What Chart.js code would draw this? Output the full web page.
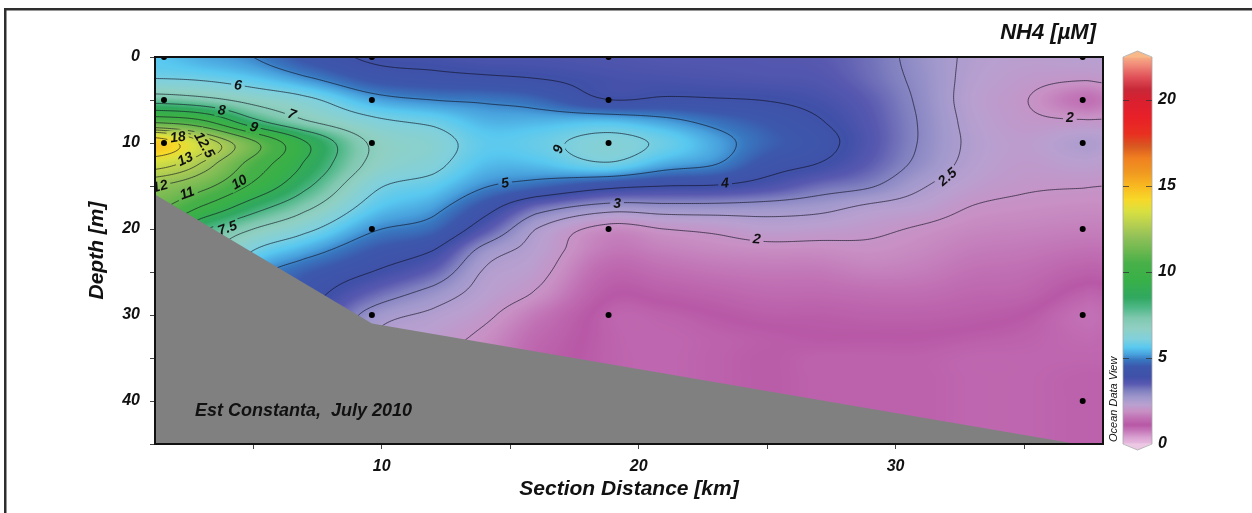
<!DOCTYPE html>
<html>
<head>
<meta charset="utf-8">
<title>NH4 section - Est Constanta, July 2010</title>
<script src="https://cdn.jsdelivr.net/npm/chart.js@4.4.1/dist/chart.umd.min.js"></script>
<style>
  html, body { margin: 0; padding: 0; background: #fff; }
</style>
</head>
<body>
<canvas id="section" width="1252" height="513"></canvas>
<script>
// NH4 [µM] section plot, Est Constanta July 2010 (ODV style)

// gridded field: columns = section distance (km), rows = depth (m)
const gridKm = [1.2, 3, 5, 7, 9.6, 12, 14, 16, 18.8, 21, 23, 25, 27, 29, 31, 33, 35, 37.3, 38.1];
const gridDepth = [0, 2.5, 5, 7.5, 10, 12.5, 15, 17.5, 20, 22.5, 25, 27.5, 30, 32.5, 35, 37.5, 40, 42.5, 45];

const nh4_0m    = [5.6, 5.3, 5.0, 4.4, 3.9, 3.8, 3.7, 3.7, 3.65, 3.6, 3.6, 3.55, 3.5, 3.25, 2.8, 2.4, 2.25, 2.3, 2.3];
const nh4_2_5m  = [6.0, 5.9, 5.6, 5.1, 4.4, 4.2, 4.1, 4.0, 3.8, 3.75, 3.7, 3.65, 3.6, 3.3, 2.85, 2.35, 2.15, 2.05, 2.1];
const nh4_5m    = [7.6, 7.3, 6.7, 6.2, 5.3, 5.0, 4.9, 4.7, 4.02, 4.1, 4.05, 3.98, 3.8, 3.45, 2.9, 2.3, 2.03, 1.5, 1.6];
const nh4_7_5m  = [10.8, 10.2, 8.3, 7.1, 6.2, 5.85, 5.4, 5.4, 5.5, 5.2, 4.8, 4.45, 4.05, 3.55, 2.95, 2.35, 2.1, 2.05, 2.05];
const nh4_10m   = [14.6, 13.1, 11.2, 9.1, 6.9, 6.35, 5.7, 5.8, 6.25, 5.85, 5.25, 4.65, 4.25, 3.6, 2.95, 2.4, 2.2, 2.45, 2.4];
const nh4_12_5m = [13.3, 12.4, 10.6, 8.9, 6.8, 6.2, 5.5, 5.5, 5.9, 5.3, 5.0, 4.3, 3.97, 3.45, 2.85, 2.35, 2.15, 2.25, 2.2];
const nh4_15m   = [12.0, 11.3, 9.8, 8.2, 6.2, 5.7, 5.05, 4.7, 4.2, 4.0, 3.95, 3.7, 3.3, 3.05, 2.55, 2.2, 2.05, 2.02, 2.0];
const nh4_17_5m = [11.2, 9.9, 8.4, 7.2, 5.7, 5.2, 4.3, 3.3, 2.75, 2.8, 2.8, 2.75, 2.65, 2.4, 2.25, 1.98, 1.9, 1.85, 1.85];
const nh4_20m   = [10.5, 8.2, 7.0, 6.2, 5.1, 4.7, 3.6, 2.5, 1.85, 2.0, 2.1, 2.25, 2.2, 2.1, 1.95, 1.8, 1.75, 1.7, 1.7];
const nh4_22_5m = [10.0, 7.6, 6.0, 5.3, 4.5, 4.0, 2.8, 2.3, 1.6, 1.7, 1.8, 1.85, 1.85, 1.9, 1.8, 1.65, 1.6, 1.5, 1.5];
const nh4_25m   = [9.5, 7.2, 5.3, 4.6, 4.0, 3.4, 2.45, 2.15, 1.35, 1.45, 1.55, 1.6, 1.6, 1.7, 1.65, 1.5, 1.45, 1.25, 1.25];
const nh4_27_5m = [9.0, 7.0, 5.0, 4.3, 3.4, 2.8, 2.3, 1.95, 1.15, 1.2, 1.3, 1.4, 1.4, 1.45, 1.45, 1.35, 1.3, 1.0, 1.0];
const nh4_30m   = [8.5, 6.8, 4.8, 4.1, 2.8, 2.4, 2.1, 1.6, 1.0, 1.0, 1.1, 1.2, 1.2, 1.25, 1.25, 1.2, 1.1, 0.85, 0.88];
const nh4_32_5m = [8.0, 6.6, 4.7, 4.0, 2.5, 2.2, 1.9, 1.4, 1.0, 0.95, 1.0, 1.05, 1.1, 1.1, 1.1, 1.05, 1.0, 0.9, 0.92];
const nh4_35m   = [7.5, 6.5, 4.6, 3.9, 2.3, 2.0, 1.8, 1.3, 1.0, 0.95, 1.0, 1.05, 1.0, 1.0, 1.0, 0.95, 0.95, 0.95, 0.95];
const nh4_37_5m = [7.0, 6.5, 4.6, 3.9, 2.2, 2.0, 1.8, 1.3, 1.0, 0.95, 1.0, 1.05, 1.0, 1.0, 1.0, 0.95, 0.95, 1.0, 1.0];
const nh4_40m   = [7.0, 6.5, 4.6, 3.9, 2.2, 2.0, 1.8, 1.3, 1.0, 0.95, 1.0, 1.05, 1.0, 1.0, 1.0, 0.95, 0.95, 1.0, 1.0];
const nh4_42_5m = [7.0, 6.5, 4.6, 3.9, 2.2, 2.0, 1.8, 1.3, 1.0, 0.95, 1.0, 1.05, 1.0, 1.0, 1.0, 0.95, 0.95, 1.0, 1.0];
const nh4_45m   = [7.0, 6.5, 4.6, 3.9, 2.2, 2.0, 1.8, 1.3, 1.0, 0.95, 1.0, 1.05, 1.0, 1.0, 1.0, 0.95, 0.95, 1.0, 1.0];

// sample positions (black dots)
const stationKm = [1.53, 9.62, 18.83, 37.28];
const stationDepths = [[0, 5, 10], [0, 5, 10, 20, 30], [0, 5, 10, 20, 30], [0, 5, 10, 20, 30, 40]];

// bottom topography (grey)
const seabedKm = [1.18, 9.62, 37.05, 38.07];
const seabedDepth = [16.0, 31.0, 45, 45];

// contour levels and their labels
const contourLevels = [2, 2.5, 3, 4, 5, 6, 7, 8, 9, 10, 11, 12, 12.5, 13, 14];
const labelText  = ['6', '8', '7', '9', '18', '12.5', '13', '12', '11', '10', '7.5', '6', '5', '4', '3', '2', '2.5', '2'];
const labelKm    = [4.41, 3.78, 6.51, 5.03, 2.07, 3.12, 2.35, 1.37, 2.42, 4.45, 3.99, 16.86, 14.8, 23.36, 19.16, 24.6, 32.0, 36.78];
const labelDepth = [3.22, 6.13, 6.59, 8.10, 9.27, 10.2, 11.8, 14.97, 15.78, 14.5, 19.85, 10.66, 14.6, 14.6, 16.94, 21.1, 13.9, 6.94];
const labelAngle = [5, 5, 20, 15, -8, 60, -25, -15, -20, -30, -20, 110, -10, -5, 0, 5, -40, 0];

// axis ticks
const kmTicks = [5, 10, 15, 20, 25, 30, 35];
const kmLabels = [10, 20, 30];
const depthTicks = [0, 5, 10, 15, 20, 25, 30, 35, 40, 45];
const depthLabels = [0, 10, 20, 30, 40];
const scaleTicks = [0, 5, 10, 15, 20];

// ODV colour bar
const paletteValues = [-0.5, 0, 0.4, 0.8, 1.1, 1.5, 1.9, 2.3, 2.7, 3.1, 3.5, 3.9, 4.5, 4.9, 5.2, 5.6, 6.1, 6.7, 7.3, 7.9, 8.5, 9.5, 10.5, 11.3, 12.0, 12.8, 13.5, 14.2, 15.0, 15.8, 16.6, 17.3, 18.0, 19.0, 20.0, 20.6, 21.3, 22.0, 22.6];
const paletteColours = ['#ecc8e4', '#e8bce0', '#d8a0d0', '#c474b8', '#b858a6', '#c070b4', '#c890c4', '#b8a0d0', '#a098cc', '#8080c0', '#5858b0', '#4050a8', '#3c58ac', '#3878c0', '#48a0dc', '#58c8f0', '#80d0dc', '#90d0c4', '#80c8b0', '#50b888', '#30a860', '#38b048', '#48b048', '#70b850', '#90c058', '#b8d050', '#d8e040', '#f8d828', '#f8b820', '#f09820', '#f08020', '#d85820', '#e83020', '#e82028', '#d82030', '#c82838', '#e05058', '#f08878', '#f8b888'];

const FONT = "'Liberation Sans', Arial, Helvetica, sans-serif";
Chart.defaults.font.family = FONT;
Chart.defaults.color = '#111';

const nh4Rows = [nh4_0m, nh4_2_5m, nh4_5m, nh4_7_5m, nh4_10m, nh4_12_5m, nh4_15m, nh4_17_5m, nh4_20m,
  nh4_22_5m, nh4_25m, nh4_27_5m, nh4_30m, nh4_32_5m, nh4_35m, nh4_37_5m, nh4_40m, nh4_42_5m, nh4_45m];

const paletteRgb = paletteColours.map(h => [1, 3, 5].map(i => parseInt(h.substr(i, 2), 16)));

function colourFor(v) {
  if (v <= paletteValues[0]) return paletteRgb[0];
  for (let i = 0; i < paletteValues.length - 1; i++) {
    if (v <= paletteValues[i + 1]) {
      const t = (v - paletteValues[i]) / (paletteValues[i + 1] - paletteValues[i]);
      const a = paletteRgb[i], b = paletteRgb[i + 1];
      return [a[0] + (b[0] - a[0]) * t, a[1] + (b[1] - a[1]) * t, a[2] + (b[2] - a[2]) * t];
    }
  }
  return paletteRgb[paletteRgb.length - 1];
}

function fracIndex(arr, v) {
  if (v <= arr[0]) return 0;
  for (let i = 0; i < arr.length - 1; i++) {
    if (v <= arr[i + 1]) return i + (v - arr[i]) / (arr[i + 1] - arr[i]);
  }
  return arr.length - 1;
}

function catmull(p0, p1, p2, p3, t) {
  return p1 + 0.5 * t * (p2 - p0 + t * (2 * p0 - 5 * p1 + 4 * p2 - p3 + t * (3 * (p1 - p2) + p3 - p0)));
}

function nh4At(fi, fj) {
  const nR = gridDepth.length, nC = gridKm.length;
  const i = Math.min(Math.floor(fi), nR - 2), j = Math.min(Math.floor(fj), nC - 2);
  const ti = fi - i, tj = fj - j;
  const cl = (k, n) => Math.max(0, Math.min(n - 1, k));
  const r = [];
  for (let a = -1; a <= 2; a++) {
    const row = nh4Rows[cl(i + a, nR)];
    r.push(catmull(row[cl(j - 1, nC)], row[j], row[j + 1], row[cl(j + 2, nC)], tj));
  }
  return catmull(r[0], r[1], r[2], r[3], ti);
}

let fieldCache = null;
function buildField(chart) {
  const {chartArea: a, scales: {x, y}} = chart;
  const left = Math.round(a.left), top = Math.round(a.top);
  const w = Math.round(a.right) - left, h = Math.round(a.bottom) - top;
  const key = [left, top, w, h].join(',');
  if (fieldCache && fieldCache.key === key) return fieldCache;
  const colIdx = new Float32Array(w), rowIdx = new Float32Array(h);
  for (let px = 0; px < w; px++) colIdx[px] = fracIndex(gridKm, x.getValueForPixel(left + px + 0.5));
  for (let py = 0; py < h; py++) rowIdx[py] = fracIndex(gridDepth, y.getValueForPixel(top + py + 0.5));
  const field = new Float32Array(w * h);
  for (let py = 0; py < h; py++) {
    for (let px = 0; px < w; px++) field[py * w + px] = nh4At(rowIdx[py], colIdx[px]);
  }
  const off = document.createElement('canvas');
  off.width = w; off.height = h;
  const octx = off.getContext('2d');
  const img = octx.createImageData(w, h);
  for (let k = 0; k < w * h; k++) {
    const c = colourFor(field[k]);
    img.data[k * 4] = c[0]; img.data[k * 4 + 1] = c[1]; img.data[k * 4 + 2] = c[2]; img.data[k * 4 + 3] = 255;
  }
  octx.putImageData(img, 0, 0);
  fieldCache = {key, left, top, w, h, field, image: off};
  return fieldCache;
}

function labelBoxes(chart, ctx) {
  const {x, y} = chart.scales;
  ctx.font = 'italic bold 14px ' + FONT;
  return labelText.map((t, i) => ({
    text: t,
    px: x.getPixelForValue(labelKm[i]),
    py: y.getPixelForValue(labelDepth[i]),
    ang: labelAngle[i] * Math.PI / 180,
    hw: ctx.measureText(t).width / 2 + 3,
    hh: 7
  }));
}

const sectionPlugin = {
  id: 'odvSection',
  beforeDatasetsDraw(chart) {
    const ctx = chart.ctx, a = chart.chartArea;
    const f = buildField(chart);
    ctx.save();
    ctx.beginPath();
    ctx.rect(a.left, a.top, a.right - a.left, a.bottom - a.top);
    ctx.clip();
    ctx.drawImage(f.image, f.left, f.top);

    // contour lines, with gaps where the labels sit
    const boxes = labelBoxes(chart, ctx);
    ctx.save();
    ctx.beginPath();
    ctx.rect(a.left, a.top, a.right - a.left, a.bottom - a.top);
    boxes.forEach(b => {
      const c = Math.cos(b.ang), s = Math.sin(b.ang);
      [[-b.hw, -b.hh], [b.hw, -b.hh], [b.hw, b.hh], [-b.hw, b.hh]].forEach(([dx, dy], k) => {
        const X = b.px + dx * c - dy * s, Y = b.py + dx * s + dy * c;
        if (k === 0) ctx.moveTo(X, Y); else ctx.lineTo(X, Y);
      });
      ctx.closePath();
    });
    ctx.clip('evenodd');
    ctx.lineWidth = 0.8;
    ctx.strokeStyle = 'rgba(15,15,30,0.8)';
    const st = 2, w = f.w, field = f.field;
    const nx = Math.floor((f.w - 1) / st), ny = Math.floor((f.h - 1) / st);
    const val = (ix, iy) => field[(iy * st) * w + ix * st];
    contourLevels.forEach(L => {
      ctx.beginPath();
      for (let iy = 0; iy < ny; iy++) {
        for (let ix = 0; ix < nx; ix++) {
          const p = val(ix, iy), q = val(ix + 1, iy), r = val(ix + 1, iy + 1), d = val(ix, iy + 1);
          const x0 = f.left + ix * st + 0.5, y0 = f.top + iy * st + 0.5;
          const pts = [];
          if ((p - L) * (q - L) < 0) pts.push([x0 + st * (L - p) / (q - p), y0]);
          if ((q - L) * (r - L) < 0) pts.push([x0 + st, y0 + st * (L - q) / (r - q)]);
          if ((d - L) * (r - L) < 0) pts.push([x0 + st * (L - d) / (r - d), y0 + st]);
          if ((p - L) * (d - L) < 0) pts.push([x0, y0 + st * (L - p) / (d - p)]);
          if (pts.length >= 2) { ctx.moveTo(pts[0][0], pts[0][1]); ctx.lineTo(pts[1][0], pts[1][1]); }
          if (pts.length === 4) { ctx.moveTo(pts[2][0], pts[2][1]); ctx.lineTo(pts[3][0], pts[3][1]); }
        }
      }
      ctx.stroke();
    });
    ctx.restore();

    // contour labels
    ctx.fillStyle = '#111';
    ctx.font = 'italic bold 14px ' + FONT;
    ctx.textAlign = 'center';
    ctx.textBaseline = 'middle';
    boxes.forEach(b => {
      ctx.save();
      ctx.translate(b.px, b.py);
      ctx.rotate(b.ang);
      ctx.fillText(b.text, 0, 1);
      ctx.restore();
    });
    ctx.restore();
  },
  afterDraw(chart) {
    const ctx = chart.ctx, a = chart.chartArea, cb = chart.scales.cb;
    ctx.save();
    // outer frame (cut by the page edge on right and bottom)
    ctx.fillStyle = '#2e2e2e';
    ctx.fillRect(4, 8, 2.5, chart.height - 8);
    ctx.fillRect(4, 8, chart.width - 4, 2.5);

    // plot frame
    ctx.strokeStyle = '#111';
    ctx.lineWidth = 2;
    ctx.strokeRect(a.left, a.top, a.right - a.left, a.bottom - a.top);

    // colour bar drawn on its own value scale
    const bx = cb.left + 20, bw = 29;
    const yTop = cb.getPixelForValue(cb.max), yBot = cb.getPixelForValue(0);
    for (let py = Math.floor(yTop); py < Math.ceil(yBot); py++) {
      const c = colourFor(cb.getValueForPixel(py + 0.5));
      ctx.fillStyle = 'rgb(' + c.map(Math.round).join(',') + ')';
      ctx.fillRect(bx, py, bw, 1);
    }
    const topC = paletteRgb[paletteRgb.length - 1], botC = paletteRgb[0];
    ctx.fillStyle = 'rgb(' + topC.join(',') + ')';
    ctx.beginPath();
    ctx.moveTo(bx, yTop + 0.5); ctx.lineTo(bx + bw / 2, yTop - 6); ctx.lineTo(bx + bw, yTop + 0.5); ctx.closePath();
    ctx.fill();
    ctx.fillStyle = 'rgb(' + botC.join(',') + ')';
    ctx.beginPath();
    ctx.moveTo(bx, yBot - 0.5); ctx.lineTo(bx + bw / 2, yBot + 6); ctx.lineTo(bx + bw, yBot - 0.5); ctx.closePath();
    ctx.fill();
    ctx.strokeStyle = '#a8a8a8';
    ctx.lineWidth = 0.8;
    ctx.beginPath();
    ctx.moveTo(bx, yTop); ctx.lineTo(bx + bw / 2, yTop - 6); ctx.lineTo(bx + bw, yTop);
    ctx.lineTo(bx + bw, yBot); ctx.lineTo(bx + bw / 2, yBot + 6); ctx.lineTo(bx, yBot); ctx.closePath();
    ctx.stroke();
    ctx.strokeStyle = 'rgba(50,50,50,0.75)';
    ctx.lineWidth = 1;
    scaleTicks.forEach(v => {
      if (v === 0) return;
      const py = Math.round(cb.getPixelForValue(v)) + 0.5;
      ctx.beginPath();
      ctx.moveTo(bx, py); ctx.lineTo(bx + 6, py);
      ctx.moveTo(bx + bw - 6, py); ctx.lineTo(bx + bw, py);
      ctx.stroke();
    });

    // texts
    ctx.fillStyle = '#111';
    ctx.textBaseline = 'middle';
    ctx.textAlign = 'right';
    ctx.font = 'italic bold 22px ' + FONT;
    ctx.fillText('NH4 [µM]', a.right - 7, 33);

    ctx.textAlign = 'left';
    ctx.font = 'italic bold 18px ' + FONT;
    ctx.fillText('Est Constanta,  July 2010', a.left + 40, a.bottom - 33);

    ctx.save();
    ctx.translate(a.right + 11, a.bottom - 2);
    ctx.rotate(-Math.PI / 2);
    ctx.font = 'italic 11px ' + FONT;
    ctx.fillText('Ocean Data View', 0, 0);
    ctx.restore();
    ctx.restore();
  }
};

const stationPoints = stationKm.flatMap((km, i) => stationDepths[i].map(d => ({x: km, y: d})));
const seabedPoints = seabedKm.map((km, i) => ({x: km, y: seabedDepth[i]}));

const tickFont = {size: 16, weight: 'bold', style: 'italic'};
const titleFont = {size: 21, weight: 'bold', style: 'italic'};

// keep label overflow from pushing the plot area around
const noOverflow = s => { s.paddingTop = 0; s.paddingBottom = 0; s.paddingLeft = 0; s.paddingRight = 0; };

new Chart(document.getElementById('section'), {
  type: 'scatter',
  data: {
    datasets: [
      {
        label: 'Stations',
        data: stationPoints,
        xAxisID: 'x', yAxisID: 'y',
        pointRadius: 3,
        pointBackgroundColor: '#000',
        pointBorderWidth: 0,
        clip: 0,
        order: 0
      },
      {
        type: 'line',
        label: 'Bottom',
        data: seabedPoints,
        xAxisID: 'x', yAxisID: 'y',
        borderWidth: 0,
        pointRadius: 0,
        backgroundColor: '#808080',
        fill: {value: 45},
        tension: 0,
        clip: 0,
        order: 1
      }
    ]
  },
  options: {
    responsive: false,
    animation: false,
    events: [],
    layout: {padding: {left: 80, top: 57, right: 0, bottom: 0}},
    plugins: {legend: {display: false}, tooltip: {enabled: false}},
    scales: {
      x: {
        type: 'linear',
        position: 'bottom',
        min: 1.18,
        max: 38.07,
        afterBuildTicks: s => { s.ticks = kmTicks.map(v => ({value: v})); },
        afterFit: s => { s.height = 69; noOverflow(s); },
        ticks: {
          autoSkip: false,
          padding: 8,
          font: tickFont,
          color: '#111',
          callback: v => kmLabels.includes(v) ? String(v) : ''
        },
        grid: {drawOnChartArea: false, drawTicks: true, tickLength: 5, color: '#444'},
        border: {display: true, color: '#111', width: 2},
        title: {display: true, text: 'Section Distance [km]', font: titleFont, color: '#111', padding: {top: 0, bottom: 11}}
      },
      y: {
        type: 'linear',
        position: 'left',
        reverse: true,
        min: 0,
        max: 45,
        afterBuildTicks: s => { s.ticks = depthTicks.map(v => ({value: v})); },
        afterFit: s => { s.width = 75; noOverflow(s); },
        ticks: {
          autoSkip: false,
          padding: 10,
          font: tickFont,
          color: '#111',
          callback: v => depthLabels.includes(v) ? String(v) : ''
        },
        grid: {drawOnChartArea: false, drawTicks: true, tickLength: 5, color: '#444'},
        border: {display: true, color: '#111', width: 2},
        title: {display: true, text: 'Depth [m]', font: titleFont, color: '#111', padding: {top: 5, bottom: 0}}
      },
      cb: {
        type: 'linear',
        position: 'right',
        min: 0,
        max: 22.48,
        afterBuildTicks: s => { s.ticks = scaleTicks.map(v => ({value: v})); },
        afterFit: s => { s.width = 149; noOverflow(s); },
        ticks: {autoSkip: false, padding: 55, font: tickFont, color: '#111'},
        grid: {display: false, drawTicks: false},
        border: {display: false}
      }
    }
  },
  plugins: [sectionPlugin]
});
</script>
</body>
</html>
